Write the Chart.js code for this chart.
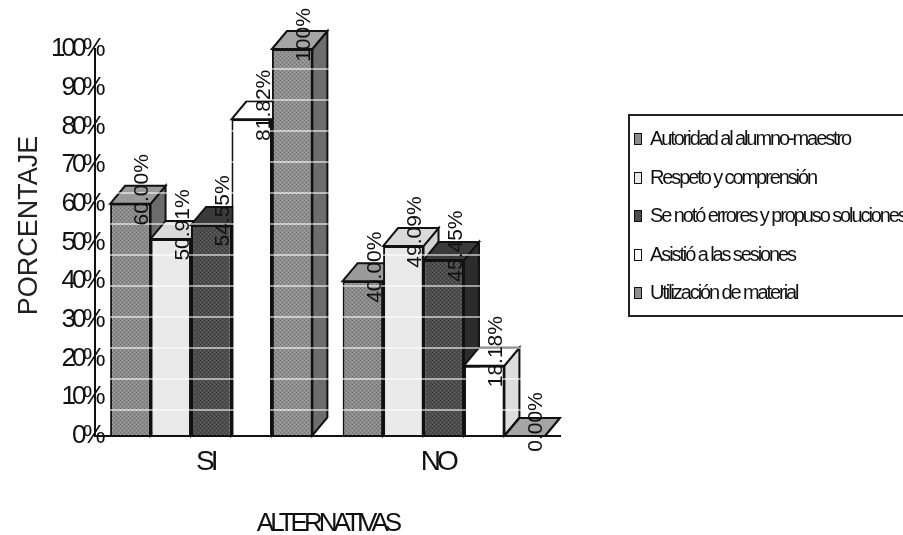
<!DOCTYPE html>
<html>
<head>
<meta charset="utf-8">
<script src="https://cdn.jsdelivr.net/npm/chart.js@4"></script>
<style>
  body { margin:0; background:#fff; font-family:"Liberation Sans",Arial,sans-serif; }
  #wrap { position:relative; width:903px; height:535px; overflow:hidden; }
  #legend { position:absolute; left:628px; top:114px; width:290px; height:203px; border:2px solid #222; box-sizing:border-box; padding-top:3px; }
  #legend div { height:38.5px; line-height:38px; font-size:20px; letter-spacing:-2.1px; white-space:nowrap; color:#111; }
  #legend span { display:inline-block; width:6px; height:10px; border:1px solid #111; margin:0 8px 0 4px; }
</style>
</head>
<body>
<div id="wrap">
  <canvas id="chart" width="903" height="535"></canvas>
  <div id="legend"></div>
</div>
<script>
const categories = ['SI','NO'];
const seriesNames = ['Autoridad al alumno-maestro','Respeto y comprensión','Se notó errores y propuso soluciones','Asistió a las sesiones','Utilización de material'];
const autoridad = [60, 40];
const respeto = [50.91, 49.09];
const errores = [54.55, 45.45];
const asistio = [81.82, 18.18];
const material = [100, 0];
const allValues = [autoridad, respeto, errores, asistio, material];

const frontCols = ['#8b8b8b','#e9e9e9','#4c4c4c','#ffffff','#8f8f8f'];
const topCols = ['#9a9a9a','#dadada','#3a3a3a','#ffffff','#a5a5a5'];
const sideCols = ['#6c6c6c','#d2d2d2','#2c2c2c','#dddddd','#6d6d6d'];
const depthX = 15, depthY = 18;

// little dotted tile so the fills look like the printed halftone
function halftone(col){
  const c = document.createElement('canvas');
  c.width = 4; c.height = 4;
  const g = c.getContext('2d');
  g.fillStyle = col; g.fillRect(0,0,4,4);
  g.fillStyle = 'rgba(0,0,0,0.22)'; g.fillRect(0,0,1,1); g.fillRect(2,2,1,1);
  g.fillStyle = 'rgba(255,255,255,0.16)'; g.fillRect(2,0,1,1); g.fillRect(0,2,1,1);
  return c.getContext('2d').createPattern(c,'repeat');
}

function face(ctx, pts, fill){
  ctx.beginPath();
  pts.forEach((p,i)=> i ? ctx.lineTo(p[0],p[1]) : ctx.moveTo(p[0],p[1]));
  ctx.closePath();
  ctx.fillStyle = fill;
  ctx.fill();
  ctx.stroke();
}

const bars3d = {
  id:'bars3d',
  beforeDraw(chart){
    const ctx = chart.ctx, area = chart.chartArea;
    ctx.letterSpacing = '0px';
    // y title sits a bit above the middle of the axis in the original
    ctx.save();
    ctx.translate(area.left-65, (area.top+area.bottom)/2-17);
    ctx.rotate(-Math.PI/2);
    ctx.fillStyle = '#222';
    ctx.font = '27px "Liberation Sans"';
    ctx.textAlign = 'center';
    ctx.textBaseline = 'middle';
    ctx.fillText('PORCENTAJE', 0, 0);
    ctx.restore();
  },
  beforeDatasetsDraw(chart){
    const ctx = chart.ctx;
    ctx.save();
    ctx.strokeStyle = '#111';
    ctx.lineWidth = 2;
    categories.forEach((c,ci)=>{
      allValues.forEach((v,si)=>{
        const b = chart.getDatasetMeta(si).data[ci];
        const l = b.x - b.width/2, r = b.x + b.width/2;
        face(ctx, [[r,b.y],[r+depthX,b.y-depthY],[r+depthX,b.base-depthY],[r,b.base]], sideCols[si]);
        face(ctx, [[l,b.y],[l+depthX,b.y-depthY],[r+depthX,b.y-depthY],[r,b.y]], topCols[si]);
      });
    });
    ctx.restore();
  },
  afterDatasetsDraw(chart){
    const ctx = chart.ctx, area = chart.chartArea;
    ctx.save();
    // pale scan bands crossing the bars
    ctx.strokeStyle = 'rgba(255,255,255,0.72)';
    ctx.lineWidth = 1.5;
    for(let y = area.bottom-26; y > area.top; y -= 31){
      ctx.beginPath(); ctx.moveTo(area.left+6,y); ctx.lineTo(area.right,y); ctx.stroke();
    }
    // value labels, turned on their side
    ctx.fillStyle = '#111';
    ctx.font = '21px "Liberation Sans"';
    ctx.textAlign = 'center';
    ctx.textBaseline = 'middle';
    allValues.forEach((vals,si)=>{
      vals.forEach((v,ci)=>{
        const b = chart.getDatasetMeta(si).data[ci];
        ctx.save();
        ctx.translate(b.x+12, b.y-14);
        ctx.rotate(-Math.PI/2);
        ctx.fillText(v===100 ? '100%' : v.toFixed(2)+'%', 0, 0);
        ctx.restore();
      });
    });
    ctx.restore();
    // ticks and the x title are painted after this hook, squeezed like the original
    ctx.letterSpacing = '-4px';
  }
};

new Chart(document.getElementById('chart').getContext('2d'), {
  type:'bar',
  data:{
    labels:categories,
    datasets:allValues.map((vals,i)=>({
      label:seriesNames[i],
      data:vals,
      backgroundColor:(i===1 || i===3) ? frontCols[i] : halftone(frontCols[i]),
      borderColor:'#111',
      borderWidth:2,
      categoryPercentage:0.87,
      barPercentage:1
    }))
  },
  plugins:[bars3d],
  options:{
    responsive:false,
    animation:false,
    layout:{ padding:{ top:49, right:343, left:0, bottom:0 } },
    plugins:{ legend:{ display:false }, tooltip:{ enabled:false } },
    scales:{
      x:{
        afterFit(s){ s.height = 99; },
        grid:{ drawOnChartArea:false, drawTicks:false, z:1 },
        border:{ color:'#111', width:2, z:1 },
        ticks:{ font:{ family:'"Liberation Sans"', size:28 }, color:'#111', padding:9, labelOffset:-6, maxRotation:0, z:1 },
        title:{ display:true, text:'ALTERNATIVAS', color:'#111', font:{ family:'"Liberation Sans"', size:26 }, padding:{ top:0, bottom:-4 } }
      },
      y:{
        min:0, max:100,
        afterFit(s){ s.width = 95; },
        grid:{ drawOnChartArea:false, drawTicks:false },
        border:{ color:'#111', width:2 },
        // mirror + far keeps right aligned labels, and lets them run past the axis line
        ticks:{ stepSize:10, callback:v=>v+'%', font:{ family:'"Liberation Sans"', size:26 }, color:'#111', mirror:true, crossAlign:'far', padding:-60, z:1 }
      }
    }
  }
});

// legend box
const legendBox = document.getElementById('legend');
seriesNames.forEach((n,i)=>{
  const row = document.createElement('div');
  const sw = document.createElement('span');
  sw.style.background = frontCols[i];
  row.appendChild(sw);
  row.appendChild(document.createTextNode(n));
  legendBox.appendChild(row);
});
</script>
</body>
</html>
